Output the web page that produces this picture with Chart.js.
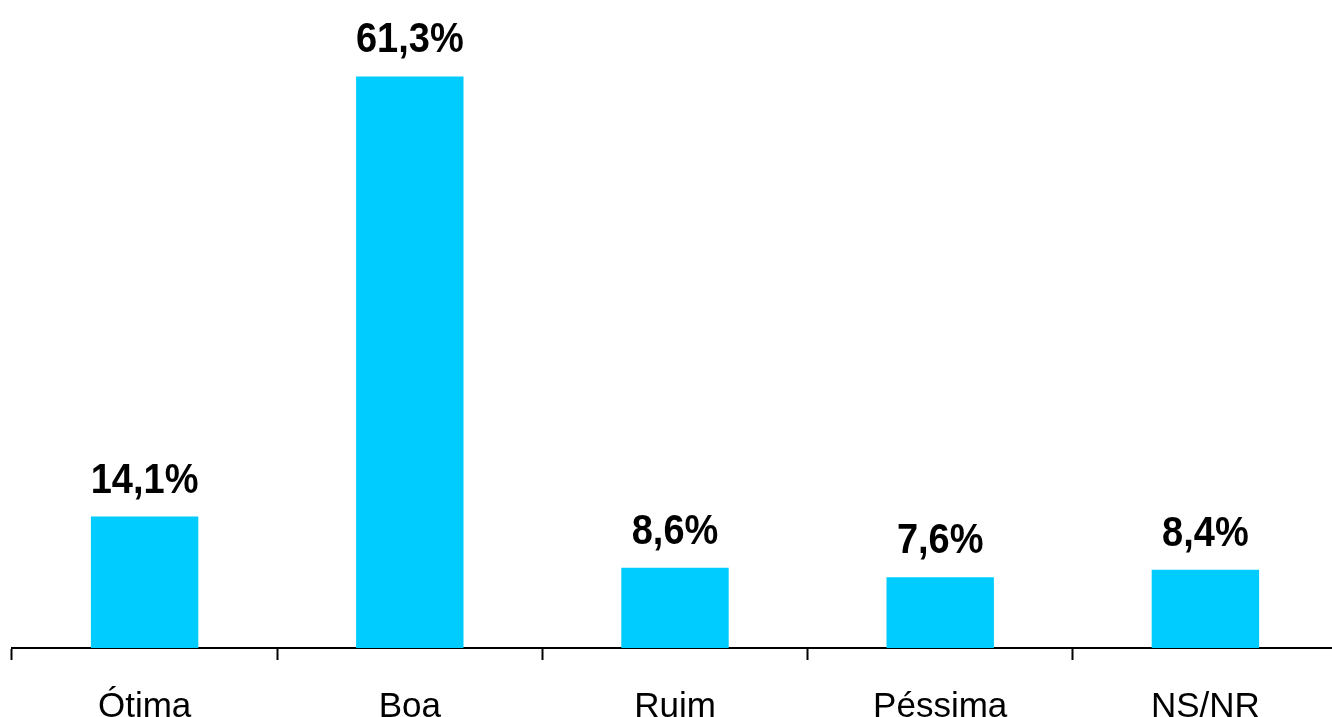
<!DOCTYPE html>
<html>
<head>
<meta charset="utf-8">
<script src="https://cdn.jsdelivr.net/npm/chart.js@4/dist/chart.umd.min.js"></script>
<style>
  html, body { margin: 0; padding: 0; background: #fff; overflow: hidden; }
  #wrap { width: 1340px; height: 754px; position: relative; }
</style>
</head>
<body>
<div id="wrap"><canvas id="chart"></canvas></div>
<script>
// ========== Data ==========
const categories = ['Ótima', 'Boa', 'Ruim', 'Péssima', 'NS/NR'];
const values = [14.1, 61.3, 8.6, 7.6, 8.4];
const yMax = 69.5;

const fmt = v => v.toFixed(1).replace('.', ',') + '%';

// draw value labels above each bar (slightly tall glyphs like the original)
const valueLabels = {
  id: 'valueLabels',
  afterDatasetsDraw(chart) {
    const ctx = chart.ctx;
    const meta = chart.getDatasetMeta(0);
    meta.data.forEach((bar, i) => {
      ctx.save();
      ctx.translate(bar.x, bar.y - 24);
      ctx.scale(1, 1.1);
      ctx.font = 'bold 38px "Liberation Sans", Arial, sans-serif';
      ctx.fillStyle = '#000';
      ctx.textAlign = 'center';
      ctx.textBaseline = 'alphabetic';
      ctx.fillText(fmt(values[i]), 0, 0);
      ctx.restore();
    });
  }
};

new Chart(document.getElementById('chart'), {
  type: 'bar',
  data: {
    labels: categories,
    datasets: [{
      data: values,
      backgroundColor: '#00CCFF',
      borderWidth: 0,
      categoryPercentage: 1,
      barPercentage: 0.405
    }]
  },
  options: {
    responsive: true,
    maintainAspectRatio: false,
    animation: false,
    layout: { padding: { left: 12, right: 2, top: 0, bottom: 0 } },
    plugins: {
      legend: { display: false },
      tooltip: { enabled: false }
    },
    scales: {
      x: {
        offset: true,
        grid: {
          offset: true,
          drawOnChartArea: false,
          drawTicks: true,
          tickLength: 12,
          tickWidth: 2,
          tickColor: '#000'
        },
        border: { display: true, color: '#000', width: 2 },
        ticks: {
          color: '#000',
          padding: 26,
          font: { family: '"Liberation Sans", Arial, sans-serif', size: 35 }
        }
      },
      y: {
        display: false,
        min: 0,
        max: yMax
      }
    }
  },
  plugins: [valueLabels]
});
</script>
</body>
</html>
